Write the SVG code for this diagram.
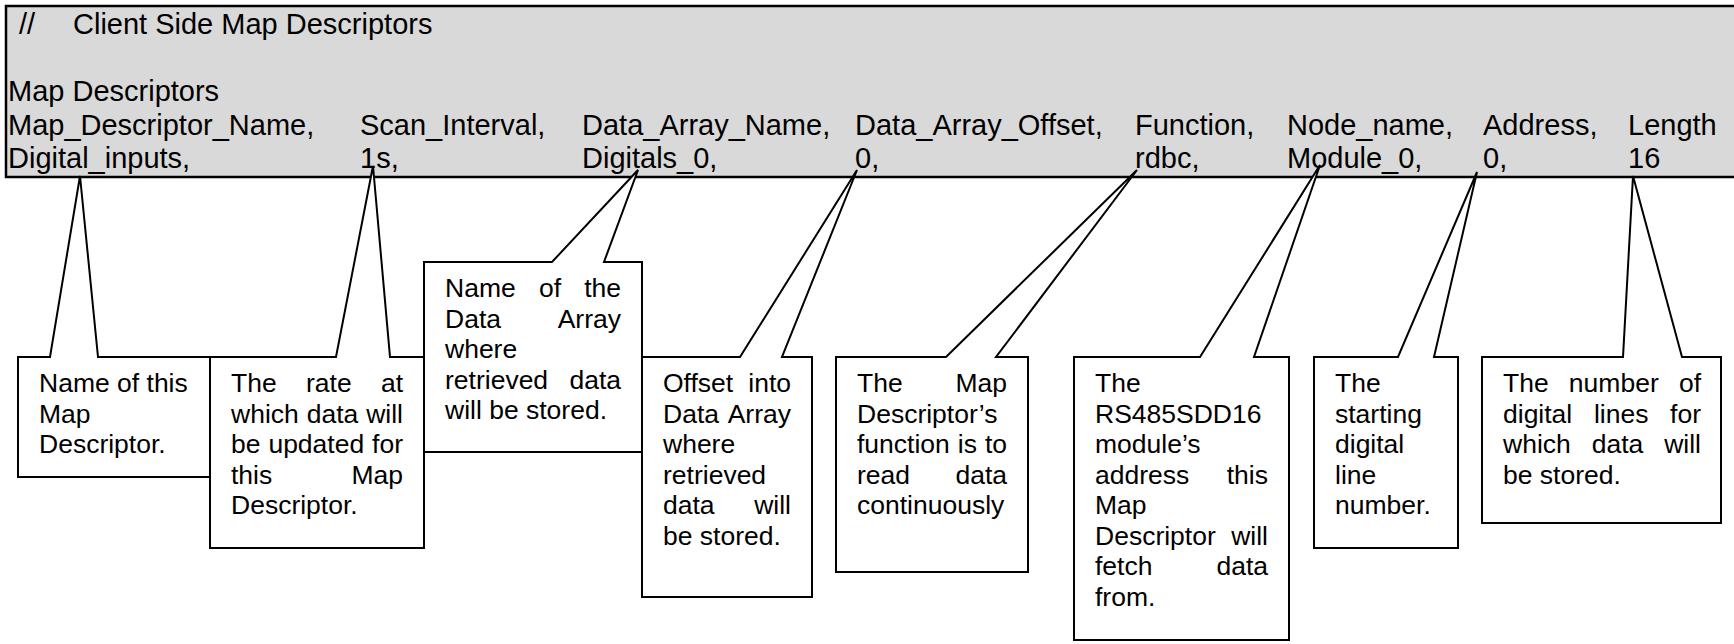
<svg xmlns="http://www.w3.org/2000/svg" width="1734" height="644" viewBox="0 0 1734 644">
<style>
text{font-family:"Liberation Sans",Arial,sans-serif;font-size:26.5px;fill:#000}
.b text{font-size:29px}
.e{text-anchor:end}
.m{text-anchor:middle}
.co{fill:#fff;stroke:#000;stroke-width:2;stroke-linejoin:miter}
</style>
<rect width="1734" height="644" fill="#fff"/>
<g id="bar" class="b">
<rect x="6" y="6" width="1740" height="171" fill="#d9d9d9" stroke="#000" stroke-width="2.5"/>
<text x="19" y="34">//</text><text x="73" y="34">Client Side Map Descriptors</text>
<text x="8" y="101">Map Descriptors</text>
<text x="8" y="134.5">Map_Descriptor_Name,</text><text x="360" y="134.5">Scan_Interval,</text><text x="582" y="134.5">Data_Array_Name,</text><text x="855" y="134.5">Data_Array_Offset,</text><text x="1135" y="134.5">Function,</text><text x="1287" y="134.5">Node_name,</text><text x="1483" y="134.5">Address,</text><text x="1628" y="134.5">Length</text>
<text x="8" y="168">Digital_inputs,</text><text x="360" y="168">1s,</text><text x="582" y="168">Digitals_0,</text><text x="855" y="168">0,</text><text x="1135" y="168">rdbc,</text><text x="1287" y="168">Module_0,</text><text x="1483" y="168">0,</text><text x="1628" y="168">16</text>
</g>
<g id="connectors"></g>
<g id="c1">
<path class="co" d="M18,357 H50 L80,176 L98,357 H210 V477 H18 Z"/>
<text x="39" y="392">Name of this</text><text x="39" y="422.5">Map</text><text x="39" y="453">Descriptor.</text>
</g>
<g id="c2">
<path class="co" d="M210,357 H336 L373,166 L390,357 H424 V548 H210 Z"/>
<text x="231" y="392">The</text><text x="328.8" y="392" class="m">rate</text><text class="e" x="403" y="392">at</text>
<text x="231" y="422.5">which</text><text x="332.5" y="422.5" class="m">data</text><text class="e" x="403" y="422.5">will</text>
<text x="231" y="453">be</text><text x="316.3" y="453" class="m">updated</text><text class="e" x="403" y="453">for</text>
<text x="231" y="483.5">this</text><text class="e" x="403" y="483.5">Map</text>
<text x="231" y="514">Descriptor.</text>
</g>
<g id="c3">
<path class="co" d="M424,262 H552 L638,170 L604,262 H642 V452 H424 Z"/>
<text x="445" y="297">Name</text><text x="550" y="297" class="m">of</text><text class="e" x="621" y="297">the</text>
<text x="445" y="327.5">Data</text><text class="e" x="621" y="327.5">Array</text>
<text x="445" y="358">where</text>
<text x="445" y="388.5">retrieved</text><text class="e" x="621" y="388.5">data</text>
<text x="445" y="419">will be stored.</text>
</g>
<g id="c4">
<path class="co" d="M642,357 H740 L857,170 L782,357 H812 V597 H642 Z"/>
<text x="663" y="392">Offset</text><text class="e" x="791" y="392">into</text>
<text x="663" y="422.5">Data</text><text class="e" x="791" y="422.5">Array</text>
<text x="663" y="453">where</text>
<text x="663" y="483.5">retrieved</text>
<text x="663" y="514">data</text><text class="e" x="791" y="514">will</text>
<text x="663" y="544.5">be stored.</text>
</g>
<g id="c5">
<path class="co" d="M836,357 H946 L1137,170 L996,357 H1028 V572 H836 Z"/>
<text x="857" y="392">The</text><text class="e" x="1007" y="392">Map</text>
<text x="857" y="422.5">Descriptor’s</text>
<text x="857" y="453">function</text><text x="967.4" y="453" class="m">is</text><text class="e" x="1007" y="453">to</text>
<text x="857" y="483.5">read</text><text class="e" x="1007" y="483.5">data</text>
<text x="857" y="514">continuously</text>
</g>
<g id="c6">
<path class="co" d="M1074,357 H1200 L1320,165 L1254,357 H1289 V640 H1074 Z"/>
<text x="1095" y="392">The</text>
<text x="1095" y="422.5">RS485SDD16</text>
<text x="1095" y="453">module’s</text>
<text x="1095" y="483.5">address</text><text class="e" x="1268" y="483.5">this</text>
<text x="1095" y="514">Map</text>
<text x="1095" y="544.5">Descriptor</text><text class="e" x="1268" y="544.5">will</text>
<text x="1095" y="575">fetch</text><text class="e" x="1268" y="575">data</text>
<text x="1095" y="605.5">from.</text>
</g>
<g id="c7">
<path class="co" d="M1314,357 H1398 L1477,172 L1434,357 H1458 V548 H1314 Z"/>
<text x="1335" y="392">The</text><text x="1335" y="422.5">starting</text><text x="1335" y="453">digital</text><text x="1335" y="483.5">line</text><text x="1335" y="514">number.</text>
</g>
<g id="c8">
<path class="co" d="M1482,357 H1623 L1633,176 L1682,357 H1721 V523 H1482 Z"/>
<text x="1503" y="392">The</text><text x="1613.8" y="392" class="m">number</text><text class="e" x="1701" y="392">of</text>
<text x="1503" y="422.5">digital</text><text x="1621.2" y="422.5" class="m">lines</text><text class="e" x="1701" y="422.5">for</text>
<text x="1503" y="453">which</text><text x="1617.5" y="453" class="m">data</text><text class="e" x="1701" y="453">will</text>
<text x="1503" y="483.5">be stored.</text>
</g>
</svg>
